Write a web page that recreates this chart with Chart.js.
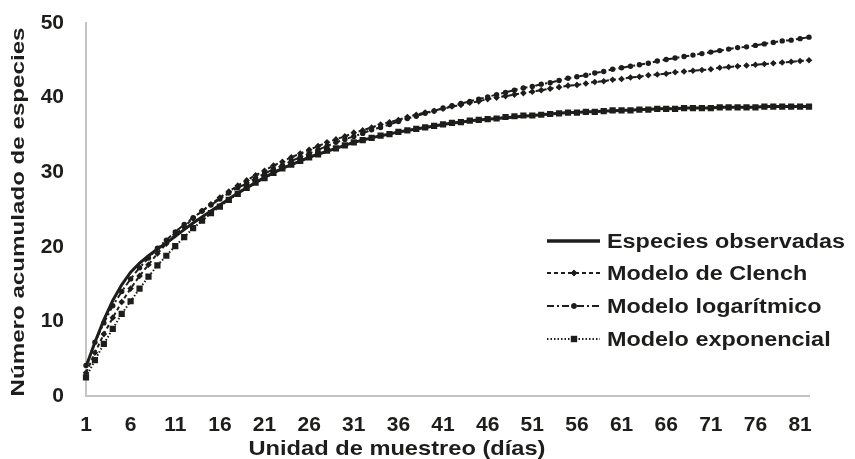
<!DOCTYPE html>
<html>
<head>
<meta charset="utf-8">
<script src="https://cdn.jsdelivr.net/npm/chart.js@4/dist/chart.umd.min.js"></script>
<style>
  html, body { margin: 0; padding: 0; background: #fff; }
</style>
</head>
<body>
<canvas id="chart" width="855" height="459"></canvas>
<script>
// sampling days (x categories)
const days = [1,2,3,4,5,6,7,8,9,10,11,12,13,14,15,16,17,18,19,20,21,22,23,24,25,26,27,28,29,30,
  31,32,33,34,35,36,37,38,39,40,41,42,43,44,45,46,47,48,49,50,51,52,53,54,55,56,57,58,59,60,
  61,62,63,64,65,66,67,68,69,70,71,72,73,74,75,76,77,78,79,80,81,82];
const tickDays = [1,6,11,16,21,26,31,36,41,46,51,56,61,66,71,76,81];

const observadas = [3.9,7.2,10.2,12.8,14.9,16.6,17.8,18.8,19.7,20.5,
  21.4,22.3,23.2,24.0,24.8,25.6,26.4,27.2,27.9,28.6,
  29.3,29.9,30.5,31.0,31.5,32.0,32.4,32.8,33.2,33.6,
  34.0,34.3,34.6,34.9,35.1,35.4,35.6,35.8,36.0,36.2,
  36.4,36.6,36.7,36.9,37.0,37.1,37.2,37.3,37.4,37.5,
  37.6,37.7,37.8,37.9,38.0,38.0,38.1,38.1,38.2,38.2,
  38.3,38.3,38.4,38.4,38.5,38.5,38.5,38.6,38.6,38.6,
  38.6,38.7,38.7,38.7,38.7,38.7,38.8,38.8,38.8,38.8,38.8,38.8];

const clench = [3.1,5.8,8.3,10.5,12.6,14.4,16.1,17.6,19.1,20.4,
  21.6,22.7,23.8,24.8,25.7,26.6,27.4,28.2,28.9,29.6,
  30.2,30.9,31.4,32.0,32.5,33.0,33.5,34.0,34.4,34.8,
  35.3,35.6,36.0,36.4,36.7,37.0,37.4,37.7,38.0,38.2,
  38.5,38.8,39.0,39.3,39.5,39.8,40.0,40.2,40.4,40.6,
  40.8,41.0,41.2,41.4,41.6,41.7,41.9,42.1,42.2,42.4,
  42.5,42.7,42.8,43.0,43.1,43.2,43.4,43.5,43.6,43.7,
  43.8,44.0,44.1,44.2,44.3,44.4,44.5,44.6,44.7,44.8,44.9,45.0];

const logaritmico = [4.1,7.2,9.8,12.1,14.0,15.7,17.2,18.5,19.8,20.9,
  22.0,23.0,23.9,24.8,25.6,26.4,27.2,27.9,28.5,29.2,
  29.8,30.4,30.9,31.5,32.0,32.5,33.0,33.5,34.0,34.4,
  34.8,35.2,35.7,36.0,36.4,36.8,37.2,37.5,37.9,38.2,
  38.6,38.9,39.2,39.5,39.8,40.1,40.4,40.7,41.0,41.3,
  41.5,41.8,42.0,42.3,42.6,42.8,43.0,43.3,43.5,43.8,
  44.0,44.2,44.4,44.6,44.9,45.1,45.3,45.5,45.7,45.9,
  46.1,46.3,46.5,46.7,46.8,47.0,47.2,47.4,47.6,47.7,47.9,48.1];

const exponencial = [2.5,4.8,7.0,9.0,11.0,12.7,14.4,16.0,17.5,18.8,
  20.1,21.3,22.5,23.5,24.5,25.4,26.3,27.1,27.9,28.6,
  29.2,29.9,30.5,31.0,31.5,32.0,32.4,32.9,33.2,33.6,
  34.0,34.3,34.6,34.9,35.1,35.4,35.6,35.8,36.0,36.2,
  36.4,36.6,36.7,36.9,37.0,37.1,37.2,37.4,37.5,37.6,
  37.6,37.7,37.8,37.9,38.0,38.0,38.1,38.1,38.2,38.3,
  38.3,38.3,38.4,38.4,38.5,38.5,38.5,38.6,38.6,38.6,
  38.6,38.7,38.7,38.7,38.7,38.7,38.8,38.8,38.8,38.8,38.8,38.8];

const ink = '#1d1d1b';
const axisGray = '#c4c4c4';
const FAMILY = "'Liberation Sans', Arial, sans-serif";

// titles + legend are drawn by hand so they sit where the original has them
const extras = {
  id: 'extras',
  afterDraw(chart) {
    const ctx = chart.ctx;
    ctx.save();
    ctx.fillStyle = ink;

    // y axis title, stretched along its length like the original
    ctx.save();
    ctx.font = 'bold 19px ' + FAMILY;
    ctx.textAlign = 'center';
    ctx.textBaseline = 'middle';
    ctx.translate(19, 212);
    ctx.rotate(-Math.PI / 2);
    let w = ctx.measureText('Número acumulado de especies').width;
    ctx.scale(369 / w, 1);
    ctx.fillText('Número acumulado de especies', 0, 0);
    ctx.restore();

    // x axis title
    ctx.save();
    ctx.font = 'bold 21px ' + FAMILY;
    ctx.textAlign = 'center';
    ctx.textBaseline = 'middle';
    ctx.translate(397, 449);
    w = ctx.measureText('Unidad de muestreo (días)').width;
    ctx.scale(297 / w, 1);
    ctx.fillText('Unidad de muestreo (días)', 0, 0);
    ctx.restore();

    // legend
    const rows = [241, 273, 306, 339];
    chart.data.datasets.forEach((ds, i) => {
      const y = rows[i];
      ctx.save();
      ctx.strokeStyle = ink;
      ctx.lineWidth = i === 0 ? 3.5 : ds.borderWidth;
      ctx.setLineDash(ds.borderDash || []);
      ctx.beginPath();
      ctx.moveTo(547, y);
      ctx.lineTo(600, y);
      ctx.stroke();
      ctx.setLineDash([]);
      if (ds.pointRadius > 0) {
        Chart.helpers.drawPoint(ctx, {
          pointStyle: ds.pointStyle, radius: ds.pointRadius, borderWidth: 0, rotation: 0
        }, 574, y);
        ctx.fillStyle = ink;
        ctx.fill();
      }
      ctx.restore();

      ctx.save();
      ctx.font = 'bold 20px ' + FAMILY;
      ctx.textBaseline = 'middle';
      ctx.translate(607, y + 1);
      ctx.scale(1.17, 1);
      ctx.fillText(ds.label, 0, 0);
      ctx.restore();
    });
    ctx.restore();
  }
};

new Chart(document.getElementById('chart'), {
  type: 'line',
  data: {
    labels: days,
    datasets: [
      {
        label: 'Especies observadas',
        data: observadas,
        borderColor: ink,
        borderWidth: 3,
        pointRadius: 0
      },
      {
        label: 'Modelo de Clench',
        data: clench,
        borderColor: ink,
        borderWidth: 2,
        borderDash: [4, 3],
        pointStyle: 'rectRot',
        pointRadius: 3.3,
        pointBackgroundColor: ink,
        pointBorderWidth: 0
      },
      {
        label: 'Modelo logarítmico',
        data: logaritmico,
        borderColor: ink,
        borderWidth: 2,
        borderDash: [7, 3, 2, 3],
        pointStyle: 'circle',
        pointRadius: 2.7,
        pointBackgroundColor: ink,
        pointBorderWidth: 0
      },
      {
        label: 'Modelo exponencial',
        data: exponencial,
        borderColor: ink,
        borderWidth: 2,
        borderDash: [1.5, 2],
        pointStyle: 'rect',
        pointRadius: 4.4,
        pointBackgroundColor: ink,
        pointBorderWidth: 0
      }
    ]
  },
  options: {
    responsive: false,
    animation: false,
    layout: { padding: { top: 23, right: 46, left: 0, bottom: 0 } },
    plugins: {
      legend: { display: false },
      tooltip: { enabled: false }
    },
    scales: {
      x: {
        type: 'category',
        offset: false,
        grid: { display: false, drawTicks: false },
        border: { display: true, color: axisGray, width: 2 },
        ticks: {
          autoSkip: false,
          maxRotation: 0,
          padding: 17,
          color: ink,
          font: { family: FAMILY, size: 21, weight: 'bold' },
          callback: function (val, i) {
            return tickDays.includes(days[i]) ? String(days[i]) : '';
          }
        },
        afterFit: (s) => { s.height = 63; }
      },
      y: {
        min: 0,
        max: 50,
        grid: { display: false, drawTicks: false },
        border: { display: true, color: axisGray, width: 2 },
        ticks: {
          stepSize: 10,
          padding: 22,
          color: ink,
          font: { family: FAMILY, size: 21, weight: 'bold' }
        },
        afterFit: (s) => {
          s.width = 86;
          // the wide label gap should not push the plot down
          s.paddingTop = 0;
          s.paddingBottom = 0;
        }
      }
    }
  },
  plugins: [extras]
});
</script>
</body>
</html>
